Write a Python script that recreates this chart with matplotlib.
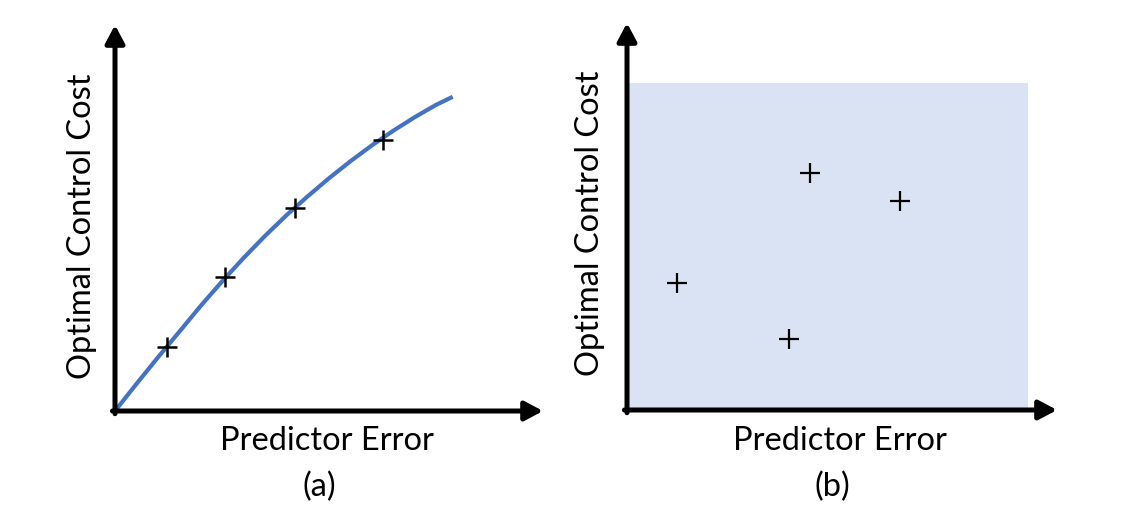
import matplotlib
matplotlib.use("Agg")
import matplotlib.pyplot as plt

# ---- data (arbitrary units, axes span 0..10) ----
curve_x = [0, 0.5, 1.0, 1.5, 2.0, 2.5, 3.0, 3.5, 4.0, 4.5, 5.0, 5.5, 6.0, 6.5, 7.0, 7.5, 7.89]
curve_y = [0, 0.70, 1.385, 2.05, 2.72, 3.355, 3.96, 4.53, 5.065, 5.56, 6.03, 6.47, 6.88, 7.26, 7.61, 7.93, 8.14]
a_pts_x = [1.21, 2.57, 4.21, 6.26]
a_pts_y = [1.65, 3.46, 5.26, 7.03]
b_pts_x = [1.16, 4.26, 6.35, 3.77]
b_pts_y = [3.28, 6.12, 5.40, 1.83]
b_region_x = [0, 9.33]
b_region_y = [0, 8.45]

xlabel = "Predictor Error"
ylabel = "Optimal Control Cost"
panel_labels = ["(a)", "(b)"]

FONT = ["Lato", "DejaVu Sans"]
W, H = 1138, 516
fig = plt.figure(figsize=(W / 100, H / 100), dpi=100)


def make_axes(x0, y0, x1, y1):
    # pixel box -> figure fraction
    ax = fig.add_axes([x0 / W, 1 - y0 / H, (x1 - x0) / W, (y0 - y1) / H])
    ax.set_xlim(0, 10)
    ax.set_ylim(0, 10)
    ax.axis("off")
    return ax


def draw_arrows(ax):
    style = "-|>,head_length=0.6,head_width=0.32"
    kw = dict(arrowstyle=style, color="black", lw=3.6, mutation_scale=18,
              shrinkA=0, shrinkB=0)
    ax.annotate("", xy=(10, 0), xytext=(-0.06, 0), xycoords="data",
                arrowprops=kw, annotation_clip=False)
    ax.annotate("", xy=(0, 10), xytext=(0, -0.07), xycoords="data",
                arrowprops=kw, annotation_clip=False)


# panel (a)
axa = make_axes(115, 411, 543, 25)
axa.plot(curve_x, curve_y, color="#4472C4", lw=3.0, solid_capstyle="butt",
         solid_joinstyle="round", clip_on=False)
axa.plot(a_pts_x, a_pts_y, linestyle="none", marker="+", markersize=14,
         mew=1.8, color="black", clip_on=False, zorder=5)
draw_arrows(axa)

# panel (b)
axb = make_axes(627, 410, 1057, 23)
axb.fill_between(b_region_x, [b_region_y[1]] * 2, b_region_y[0],
                 color="#DAE3F3", lw=0, zorder=0)
axb.plot(b_pts_x, b_pts_y, linestyle="none", marker="+", markersize=14,
         mew=1.6, color="black", clip_on=False, zorder=5)
draw_arrows(axb)

# texts
fs = 23.5
for cx, lab in [(327, panel_labels[0]), (840, panel_labels[1])]:
    fig.text(cx / W, 1 - 441 / H, xlabel, ha="center", va="center",
             fontsize=fs, family=FONT)
    fig.text((cx - 8) / W, 1 - 487 / H, lab, ha="center", va="center",
             fontsize=fs, family=FONT)
fig.text(82 / W, 1 - 226 / H, ylabel, rotation=90, ha="center", va="center",
         fontsize=fs, family=FONT)
fig.text(590 / W, 1 - 223 / H, ylabel, rotation=90, ha="center", va="center",
         fontsize=fs, family=FONT)

fig.savefig("out.png", dpi=100)
